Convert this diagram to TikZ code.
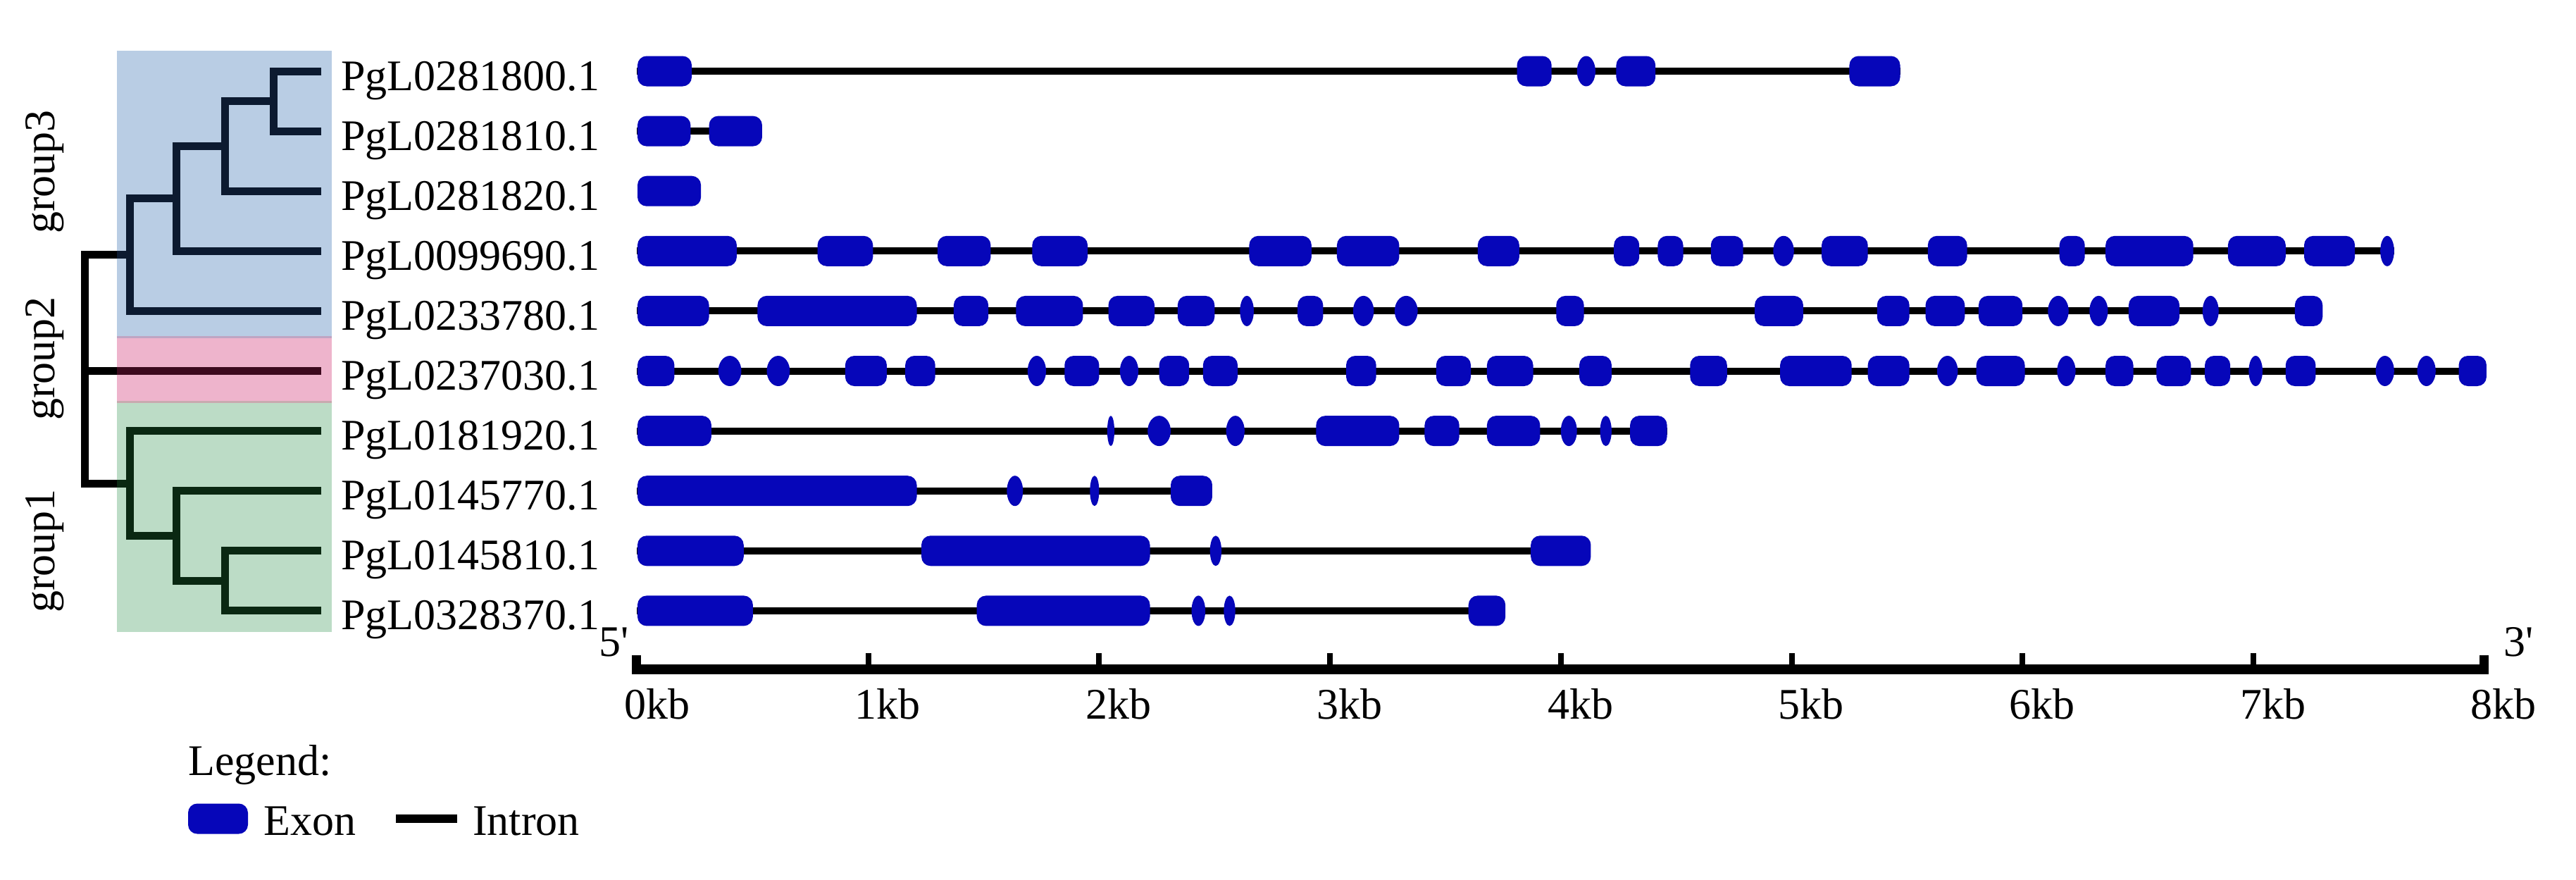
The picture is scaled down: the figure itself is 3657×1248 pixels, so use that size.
\documentclass[tikz,border=0pt]{standalone}
\usepackage{fontspec}
\setmainfont{Liberation Serif}
\definecolor{exoncol}{RGB}{6,6,185}
\definecolor{gthreebg}{RGB}{185,205,228}
\definecolor{gtwobg}{RGB}{238,180,204}
\definecolor{gonebg}{RGB}{188,220,198}
\definecolor{gthreeln}{RGB}{12,26,48}
\definecolor{gtwoln}{RGB}{60,10,30}
\definecolor{goneln}{RGB}{10,40,18}
\newcommand\gexon[3]{%
  \pgfmathsetmacro\gxa{905+327.7*#2}%
  \pgfmathsetmacro\gxb{905+327.7*#3}%
  \pgfmathsetmacro\gxw{\gxb-\gxa}%
  \ifdim\gxw pt<34pt
    \fill[exoncol] ({(\gxa+\gxb)/2},#1) ellipse [x radius=\gxw/2, y radius=21.5];
  \else
    \fill[exoncol, rounded corners=13pt] (\gxa,#1-21.5) rectangle (\gxb,#1+21.5);
  \fi
}
\newcommand\ggene[3]{%
  \draw[intron] (904,#1) -- ({905+327.7*#2},#1);
  \foreach \ga/\gb in {#3} {\gexon{#1}{\ga}{\gb}}%
}
\newcommand\treepaths{%
  \draw[tree] (L1) -| (nD) |- (L2);
  \draw[tree] (nD) -| (nC) |- (L3);
  \draw[tree] (nC) -| (nB) |- (L4);
  \draw[tree] (nB) -| (nA) |- (L5);
  \draw[tree] (nA) -| (nR) |- (nE);
  \draw[tree] (nR) -- (L6);
  \draw[tree] (L7) -| (nE) |- (nF);
  \draw[tree] (L8) -| (nF) |- (nG);
  \draw[tree] (L9) -| (nG) |- (L10);
}
\begin{document}
\begin{tikzpicture}[x=1pt,y=-1pt,
  lab/.style={font=\fontsize{62}{72}\selectfont, inner sep=0pt, text=black},
  intron/.style={draw=black, line width=10pt},
  tree/.style={line width=11pt, line join=miter}]
\useasboundingbox (0,0) rectangle (3657,1248);
\fill[white] (0,0) rectangle (3657,1248);

% group backgrounds
\fill[gthreebg] (166,72) rectangle (471,478);
\fill[gtwobg] (166,478) rectangle (471,570);
\fill[gonebg] (166,570) rectangle (471,897);
\draw[line width=3pt, color={rgb,255:red,190;green,165;blue,195}] (166,478) -- (471,478);
\draw[line width=3pt, color={rgb,255:red,200;green,170;blue,175}] (166,570) -- (471,570);

% tree coordinates
\coordinate (L1) at (456,101);
\coordinate (L2) at (456,186.1);
\coordinate (L3) at (456,271.2);
\coordinate (L4) at (456,356.3);
\coordinate (L5) at (456,441.4);
\coordinate (L6) at (456,526.5);
\coordinate (L7) at (456,611.6);
\coordinate (L8) at (456,696.7);
\coordinate (L9) at (456,781.8);
\coordinate (L10) at (456,866.9);
\coordinate (nD) at (388,143.55);
\coordinate (nC) at (319,207.4);
\coordinate (nB) at (250,281.8);
\coordinate (nA) at (184,361.6);
\coordinate (nR) at (120,526.5);
\coordinate (nE) at (184,686);
\coordinate (nF) at (250,760.5);
\coordinate (nG) at (319,824.35);

\begin{scope}[tree/.append style={draw=black}]
\treepaths
\end{scope}
\begin{scope}
\clip (166,72) rectangle (471,478);
\begin{scope}[tree/.append style={draw=gthreeln}]\treepaths\end{scope}
\end{scope}
\begin{scope}
\clip (166,478) rectangle (471,570);
\begin{scope}[tree/.append style={draw=gtwoln}]\treepaths\end{scope}
\end{scope}
\begin{scope}
\clip (166,570) rectangle (471,897);
\begin{scope}[tree/.append style={draw=goneln}]\treepaths\end{scope}
\end{scope}

% group labels
\node[lab, rotate=90] (gr3) at (64,244) {group3};
\node[lab, rotate=90] (gr2) at (64,509) {group2};
\node[lab, rotate=90] (gr1) at (64,782) {group1};

% gene labels
\node[lab, anchor=base west] (t1) at (484,128) {PgL0281800.1};
\node[lab, anchor=base west] (t2) at (484,213.1) {PgL0281810.1};
\node[lab, anchor=base west] (t3) at (484,298.2) {PgL0281820.1};
\node[lab, anchor=base west] (t4) at (484,383.3) {PgL0099690.1};
\node[lab, anchor=base west] (t5) at (484,468.4) {PgL0233780.1};
\node[lab, anchor=base west] (t6) at (484,553.5) {PgL0237030.1};
\node[lab, anchor=base west] (t7) at (484,638.6) {PgL0181920.1};
\node[lab, anchor=base west] (t8) at (484,723.7) {PgL0145770.1};
\node[lab, anchor=base west] (t9) at (484,808.8) {PgL0145810.1};
\node[lab, anchor=base west] (t10) at (484,893.9) {PgL0328370.1};

% gene structures
\ggene{101}{5.47}{0/0.235, 3.81/3.96, 4.07/4.15, 4.24/4.41, 5.25/5.47}
\ggene{186.1}{0.54}{0/0.23, 0.31/0.54}
\gexon{271.2}{0}{0.275}
\ggene{356.3}{7.61}{0/0.43, 0.78/1.02, 1.30/1.53, 1.71/1.95, 2.65/2.92, 3.03/3.30, 3.64/3.82, 4.23/4.34, 4.42/4.53, 4.65/4.79, 4.92/5.01, 5.13/5.33, 5.59/5.76, 6.16/6.27, 6.36/6.74, 6.89/7.14, 7.22/7.44, 7.55/7.61}
\ggene{441.4}{7.30}{0/0.31, 0.52/1.21, 1.37/1.52, 1.64/1.93, 2.04/2.24, 2.34/2.50, 2.61/2.67, 2.86/2.97, 3.10/3.19, 3.28/3.38, 3.98/4.10, 4.84/5.05, 5.37/5.51, 5.58/5.75, 5.81/6.00, 6.11/6.20, 6.29/6.37, 6.46/6.68, 6.78/6.85, 7.18/7.30}
\ggene{526.5}{8.0}{0/0.16, 0.35/0.45, 0.56/0.66, 0.90/1.08, 1.16/1.29, 1.69/1.77, 1.85/2.00, 2.09/2.17, 2.26/2.39, 2.45/2.60, 3.07/3.20, 3.46/3.61, 3.68/3.88, 4.08/4.22, 4.56/4.72, 4.95/5.26, 5.33/5.51, 5.63/5.72, 5.80/6.01, 6.15/6.23, 6.36/6.48, 6.58/6.73, 6.79/6.90, 6.98/7.04, 7.14/7.27, 7.53/7.61, 7.71/7.79, 7.89/8.01}
\ggene{611.6}{4.46}{0/0.32, 2.035/2.066, 2.21/2.31, 2.55/2.63, 2.94/3.30, 3.41/3.56, 3.68/3.91, 4.00/4.07, 4.17/4.22, 4.30/4.46}
\ggene{696.7}{2.49}{0/1.21, 1.60/1.67, 1.96/2.00, 2.31/2.49}
\ggene{781.8}{4.13}{0/0.46, 1.23/2.22, 2.48/2.53, 3.87/4.13}
\ggene{866.9}{3.76}{0/0.50, 1.47/2.22, 2.40/2.46, 2.54/2.59, 3.60/3.76}

% scale axis
\fill[black] (897,943) rectangle (3533,957);
\fill[black] (897,930) rectangle (910,957);
\fill[black] (3520,930) rectangle (3533,957);
\foreach \k in {1,...,7} {
  \fill[black] ({905+327.7*\k-4},927) rectangle ({905+327.7*\k+4},946);
}
\foreach \k in {0,...,8} {
  \node[lab, anchor=base west] (ax\k) at ({905+327.7*\k-19},1020) {\k kb};
}
\node[lab, anchor=base west] (five) at (850,931) {5\textquotesingle};
\node[lab, anchor=base west] (three) at (3554,931) {3\textquotesingle};

% legend
\node[lab, anchor=base west] (leg) at (267,1100) {Legend:};
\fill[exoncol, rounded corners=13pt] (267,1140.5) rectangle (352,1183.5);
\coordinate (legexon) at (352,1162);
\node[lab, anchor=base west] (legex) at (374,1185) {Exon};
\coordinate (ia) at (562,1162);
\coordinate (ib) at (649,1162);
\draw[black, line width=12pt] (ia) -- (ib);
\node[lab, anchor=base west] (legin) at (671,1185) {Intron};
\end{tikzpicture}
\end{document}
